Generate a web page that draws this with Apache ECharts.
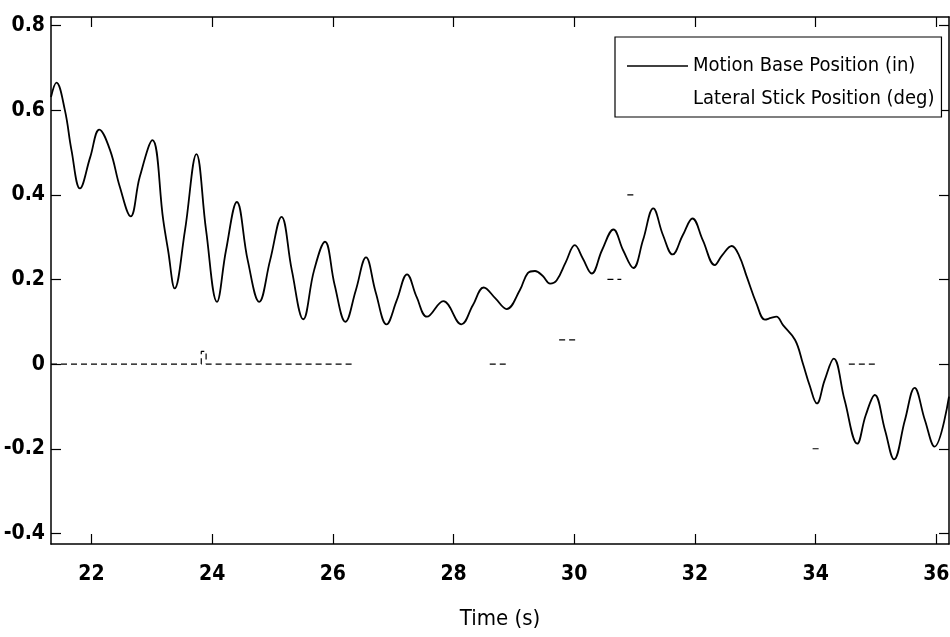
<!DOCTYPE html>
<html><head><meta charset="utf-8">
<script src="https://cdn.jsdelivr.net/npm/echarts@6/dist/echarts.min.js"></script>
<style>html,body{margin:0;padding:0;background:#fff}#c{width:950px;height:637px}</style>
</head><body><div id="c"></div>
<script>
// Time axis (s) and motion base position (in)
const timeS = [21.33,21.42,21.56,21.67,21.81,21.98,22.13,22.31,22.47,22.65,22.80,23.01,23.19,23.27,23.38,23.55,23.74,23.90,24.08,24.23,24.41,24.59,24.78,24.96,25.15,25.32,25.51,25.69,25.87,26.03,26.21,26.38,26.55,26.71,26.89,27.06,27.23,27.39,27.56,27.83,28.13,28.32,28.50,28.69,28.88,29.10,29.23,29.35,29.48,29.60,29.71,29.86,30.01,30.14,30.29,30.46,30.65,30.81,30.98,31.14,31.31,31.47,31.63,31.80,31.96,32.13,32.33,32.45,32.61,32.73,32.86,33.02,33.16,33.26,33.35,33.46,33.66,33.79,33.90,34.02,34.15,34.30,34.48,34.69,34.83,34.98,35.15,35.30,35.48,35.64,35.81,35.97,36.21];
const motionBase = [0.631,0.665,0.600,0.505,0.415,0.489,0.554,0.505,0.419,0.349,0.442,0.529,0.340,0.269,0.179,0.316,0.496,0.316,0.147,0.269,0.383,0.245,0.147,0.245,0.348,0.222,0.106,0.222,0.289,0.187,0.100,0.174,0.252,0.170,0.094,0.151,0.212,0.158,0.112,0.149,0.094,0.139,0.181,0.156,0.130,0.175,0.215,0.220,0.208,0.190,0.198,0.241,0.281,0.250,0.214,0.269,0.318,0.269,0.227,0.293,0.368,0.305,0.259,0.305,0.344,0.293,0.234,0.257,0.279,0.257,0.206,0.143,0.105,0.109,0.112,0.092,0.057,0.001,-0.050,-0.093,-0.038,0.013,-0.085,-0.188,-0.121,-0.073,-0.156,-0.225,-0.132,-0.056,-0.132,-0.195,-0.077];
// Lateral stick position (deg): only fragments survive in the picture (null = not visible)
const stickTime = [21.33,23.82,23.82,23.90,23.90,26.35,26.35,28.60,28.90,28.90,29.75,30.05,30.05,30.55,30.78,30.78,30.88,31.00,31.00,33.95,34.05,34.05,34.55,35.00];
const stickDeg  = [0,0,0.03,0.03,0,0,null,0,0,null,0.057,0.057,null,0.2,0.2,null,0.4,0.4,null,-0.2,-0.2,null,0,0];
const xTicks = [22,24,26,28,30,32,34,36];
const yTicks = [-0.4,-0.2,0,0.2,0.4,0.6,0.8];
const xRange = [21.33, 36.21];
const yRange = [-0.425, 0.82];
const seriesNames = ['Motion Base Position (in)', 'Lateral Stick Position (deg)'];
const xTitle = 'Time (s)';

const FONT = "'DejaVu Sans Condensed','Liberation Sans Narrow',sans-serif";
const motionData = timeS.map((t, i) => [t, motionBase[i]]);
const stickData = stickTime.map((t, i) => [t, stickDeg[i] === null ? '-' : stickDeg[i]]);

const axisLineStyle = {color: '#000', width: 1.5};
const tickStyle = {color: '#000', width: 1.2};
const chart = echarts.init(document.getElementById('c'), null, {renderer: 'canvas'});
chart.setOption({
  backgroundColor: '#fff',
  animation: false,
  grid: {left: 51, right: 1, top: 17, bottom: 93, containLabel: false, outerBoundsMode: 'none'},
  xAxis: [{
    type: 'value', position: 'bottom', min: xRange[0], max: xRange[1],
    axisLine: {show: true, onZero: false, lineStyle: axisLineStyle},
    axisTick: {show: true, inside: true, length: 10, customValues: xTicks, lineStyle: tickStyle},
    axisLabel: {show: true, customValues: xTicks, margin: 20, color: '#000', fontSize: 21, fontWeight: 'bold', fontFamily: FONT,
      formatter: v => String(Math.round(v))},
    splitLine: {show: false},
    name: xTitle, nameLocation: 'middle', nameGap: 64,
    nameTextStyle: {color: '#000', fontSize: 22, fontFamily: FONT}
  }, {
    type: 'value', position: 'top', min: xRange[0], max: xRange[1],
    axisLine: {show: true, onZero: false, lineStyle: axisLineStyle},
    axisTick: {show: true, inside: true, length: 10, customValues: xTicks, lineStyle: tickStyle},
    axisLabel: {show: false}, splitLine: {show: false}
  }],
  yAxis: [{
    type: 'value', position: 'left', min: yRange[0], max: yRange[1],
    axisLine: {show: true, onZero: false, lineStyle: axisLineStyle},
    axisTick: {show: true, inside: true, length: 10, customValues: yTicks, lineStyle: tickStyle},
    axisLabel: {show: true, customValues: yTicks, margin: 6, color: '#000', fontSize: 21, fontWeight: 'bold', fontFamily: FONT,
      formatter: v => (Math.abs(v) < 1e-9 ? '0' : v.toFixed(1))},
    splitLine: {show: false}
  }, {
    type: 'value', position: 'right', min: yRange[0], max: yRange[1],
    axisLine: {show: true, onZero: false, lineStyle: axisLineStyle},
    axisTick: {show: true, inside: true, length: 10, customValues: yTicks, lineStyle: tickStyle},
    axisLabel: {show: false}, splitLine: {show: false}
  }],
  legend: {
    left: 615, top: 37, orient: 'vertical',
    padding: [19, 7, 8, 12], itemGap: 13,
    itemWidth: 61, itemHeight: 1.6,
    borderColor: '#000', borderWidth: 1.2, backgroundColor: '#fff',
    textStyle: {color: '#000', fontSize: 20, fontFamily: FONT},
    data: [
      {name: seriesNames[0], icon: 'rect'},
      {name: seriesNames[1], icon: 'rect', itemStyle: {opacity: 0}, lineStyle: {opacity: 0}}
    ]
  },
  series: [{
    name: seriesNames[0], type: 'line', data: motionData, xAxisIndex: 0, yAxisIndex: 0,
    symbol: 'none', smooth: 0.4,
    lineStyle: {color: '#000', width: 1.8}, itemStyle: {color: '#000'}
  }, {
    name: seriesNames[1], type: 'line', data: stickData, xAxisIndex: 0, yAxisIndex: 0,
    symbol: 'none', connectNulls: false,
    lineStyle: {color: '#000', width: 1.2, type: [6, 4]}, itemStyle: {color: '#000'}
  }]
});
</script></body></html>
